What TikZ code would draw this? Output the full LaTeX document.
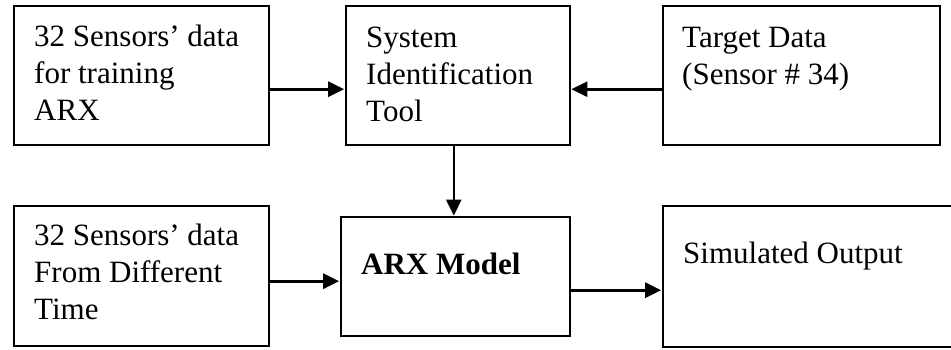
\documentclass[tikz,border=0pt]{standalone}
\usepackage{fontspec}
\setmainfont{Liberation Serif}
\usetikzlibrary{arrows.meta,calc}
\begin{document}
\begin{tikzpicture}[x=1pt,y=1pt,
  blockbox/.style={draw, line width=1.6pt, inner sep=0pt, anchor=south west},
  blocktext/.style={anchor=base west, align=left, inner sep=0pt,
    font=\fontsize{31}{37}\selectfont},
  flow/.style={line width=2.6pt, shorten >=0.8pt,
    -{Triangle[length=16pt,width=15pt]}}]
\useasboundingbox (0,0) rectangle (951,349);
\clip (0,0) rectangle (951,349);

% blocks
\node[blockbox, minimum width=255pt, minimum height=139pt] (b1) at (13,203) {};
\node[blockbox, minimum width=224pt, minimum height=139pt] (b2) at (345,203) {};
\node[blockbox, minimum width=277pt, minimum height=139pt] (b3) at (662,203) {};
\node[blockbox, minimum width=255pt, minimum height=140pt] (b4) at (13,2) {};
\node[blockbox, minimum width=229pt, minimum height=119pt] (b5) at (340,12) {};
\node[blockbox, minimum width=300pt, minimum height=141pt] (b6) at (662,1) {};

% block texts (anchored at the baseline of the last line)
\node[blocktext] (t1) at (34,229) {32 Sensors’ data\\for training\\ARX};
\node[blocktext] (t2) at (366,228) {System\\Identification\\Tool};
\node[blocktext] (t3) at (682,265) {Target Data\\(Sensor \# 34)};
\node[blocktext] (t4) at (34,30) {32 Sensors’ data\\From Different\\Time};
\node[blocktext, font=\fontsize{31}{37}\selectfont\bfseries] (t5) at (361,75) {ARX Model};
\node[blocktext] (t6) at (683,86) {Simulated Output};

% connectors
\draw[flow] ([yshift=-13.5pt]b1.east) -- ([yshift=-13.5pt]b1.east -| b2.west);
\draw[flow] ([yshift=-13.5pt]b3.west) -- ([yshift=-13.5pt]b3.west -| b2.east);
\draw[flow] ([xshift=-4pt]b2.south) -- ([xshift=-4pt]b2.south |- b5.north);
\draw[flow] ([yshift=-5pt]b4.east) -- ([yshift=-5pt]b4.east -| b5.west);
\draw[flow] ([yshift=-13.5pt]b5.east) -- ([yshift=-13.5pt]b5.east -| b6.west);
\end{tikzpicture}
\end{document}
